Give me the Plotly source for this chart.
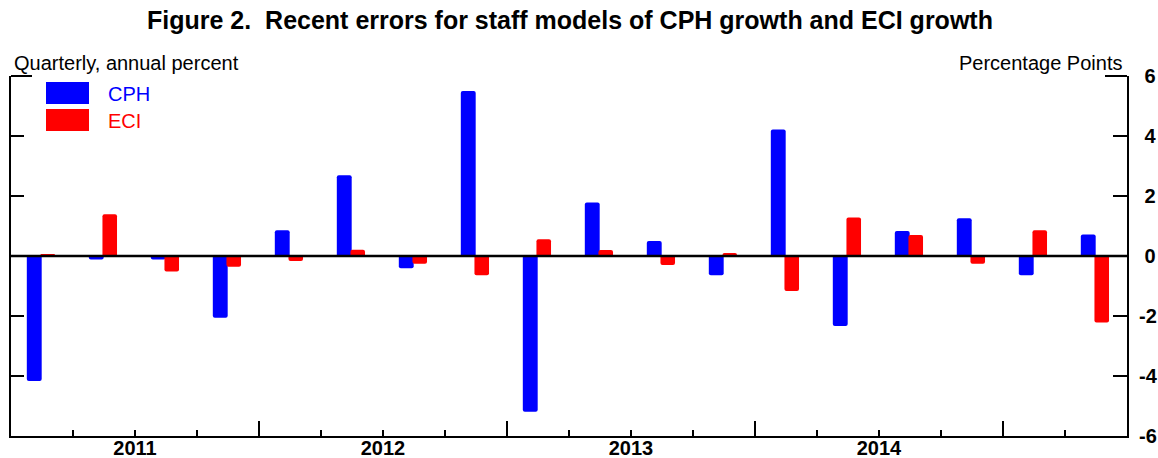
import plotly.graph_objects as go

# ---- data ----
quarters = ["2011Q1", "2011Q2", "2011Q3", "2011Q4",
            "2012Q1", "2012Q2", "2012Q3", "2012Q4",
            "2013Q1", "2013Q2", "2013Q3", "2013Q4",
            "2014Q1", "2014Q2", "2014Q3", "2014Q4",
            "2015Q1", "2015Q2"]
cph = [-4.17, -0.12, -0.12, -2.06, 0.86, 2.69, -0.41, 5.50, -5.19,
       1.78, 0.50, -0.64, 4.22, -2.33, 0.83, 1.26, -0.64, 0.72]
eci = [0.04, 1.39, -0.52, -0.36, -0.17, 0.21, -0.26, -0.64, 0.56,
       0.20, -0.30, 0.10, -1.17, 1.28, 0.70, -0.26, 0.86, -2.22]
year_labels = ["2011", "2012", "2013", "2014"]
year_label_pos = [2, 6, 10, 14]
year_bounds = [0, 4, 8, 12, 16]
y_ticks = [-6, -4, -2, 0, 2, 4, 6]

FONT = "Arial, Liberation Sans, sans-serif"
BLUE = "#0000FF"
RED = "#FF0000"

W, H = 1158, 458
ML, MR, MT, MB = 11, 31, 76, 22
PW, PH = W - ML - MR, H - MT - MB


def px(x):
    return (x - ML) / PW


def py(y):
    return (H - MB - y) / PH


xc = [i + 0.5 for i in range(len(quarters))]

fig = go.Figure()
fig.add_trace(go.Bar(x=xc, y=cph, name="CPH", marker=dict(color=BLUE, line=dict(width=0)),
                     width=0.24, offset=-0.245, showlegend=False))
fig.add_trace(go.Bar(x=xc, y=eci, name="ECI", marker=dict(color=RED, line=dict(width=0)),
                     width=0.235, offset=-0.025, showlegend=False))
# invisible trace to host the secondary axes
fig.add_trace(go.Scatter(x=[0], y=[0], xaxis="x2", yaxis="y2", mode="markers",
                         marker=dict(opacity=0), showlegend=False, hoverinfo="skip"))

ticktext_right = [(" " + str(v)) if v >= 0 else str(v) for v in y_ticks]

fig.update_layout(
    template="none",
    width=W, height=H, autosize=False,
    margin=dict(l=ML, r=MR, t=MT, b=MB, pad=0),
    paper_bgcolor="white", plot_bgcolor="white",
    barmode="overlay", barcornerradius=2,
    font=dict(family=FONT, color="black"),
    xaxis=dict(range=[0, len(quarters)], tickmode="array", tickvals=year_label_pos,
               ticktext=year_labels, ticks="inside", ticklen=6, tickwidth=2, tickcolor="black",
               showline=True, linewidth=2, linecolor="black", showgrid=False, zeroline=False,
               ticklabelstandoff=-7, automargin=False,
               tickfont=dict(family=FONT, size=20, color="black", weight="bold"),
               minor=dict(tickmode="array", tickvals=list(range(0, len(quarters) + 1)),
                          ticks="inside", ticklen=6, tickwidth=2, tickcolor="black", showgrid=False)),
    xaxis2=dict(range=[0, len(quarters)], overlaying="x", anchor="y", side="bottom",
                tickmode="array", tickvals=year_bounds, ticks="inside", ticklen=15, tickwidth=2,
                tickcolor="black", showticklabels=False, showline=False, showgrid=False,
                zeroline=False, automargin=False),
    yaxis=dict(range=[-6, 6], tickmode="array", tickvals=y_ticks, ticks="inside", ticklen=13,
               tickwidth=2, tickcolor="black", showticklabels=False, showline=True, linewidth=2,
               linecolor="black", showgrid=False, zeroline=False, automargin=False),
    yaxis2=dict(range=[-6, 6], overlaying="y", side="right", anchor="x", tickmode="array",
                tickvals=y_ticks, ticktext=ticktext_right, ticks="inside", ticklen=14, tickwidth=2,
                tickcolor="black", showline=True, linewidth=2, linecolor="black",
                showgrid=False, zeroline=False, ticklabelstandoff=6, automargin=False,
                tickfont=dict(family=FONT, size=20, color="black", weight="bold")),
    shapes=[
        dict(type="line", xref="paper", yref="y", x0=0, x1=1, y0=0, y1=0,
             line=dict(color="black", width=2.5), layer="above"),
        dict(type="line", xref="paper", yref="paper", x0=0, x1=px(32), y0=1, y1=1,
             line=dict(color="black", width=2), layer="above"),
        dict(type="line", xref="paper", yref="paper", x0=px(1105), x1=1, y0=1, y1=1,
             line=dict(color="black", width=2), layer="above"),
        dict(type="rect", xref="paper", yref="paper", x0=px(46), x1=px(89), y0=py(104), y1=py(82),
             fillcolor=BLUE, line=dict(width=0)),
        dict(type="rect", xref="paper", yref="paper", x0=px(46), x1=px(89), y0=py(131), y1=py(109),
             fillcolor=RED, line=dict(width=0)),
    ],
    annotations=[
        dict(text="<b>Figure 2.  Recent errors for staff models of CPH growth and ECI growth</b>",
             xref="paper", yref="paper", x=px(570), y=py(20), xanchor="center",
             yanchor="middle", showarrow=False, font=dict(family=FONT, size=25, color="black")),
        dict(text="Quarterly, annual percent", xref="paper", yref="paper", x=px(12),
             y=py(63), xanchor="left", yanchor="middle", showarrow=False,
             font=dict(family=FONT, size=20, color="black")),
        dict(text="Percentage Points", xref="paper", yref="paper", x=px(1124),
             y=py(63), xanchor="right", yanchor="middle", showarrow=False,
             font=dict(family=FONT, size=20, color="black")),
        dict(text="CPH", xref="paper", yref="paper", x=px(106), y=py(94),
             xanchor="left", yanchor="middle", showarrow=False,
             font=dict(family=FONT, size=20, color=BLUE)),
        dict(text="ECI", xref="paper", yref="paper", x=px(106), y=py(121),
             xanchor="left", yanchor="middle", showarrow=False,
             font=dict(family=FONT, size=20, color=RED)),
    ],
)

fig.write_html("out.html", config={"responsive": False, "displayModeBar": False},
               post_script="document.body.style.margin='0px';document.body.style.overflow='hidden';")
